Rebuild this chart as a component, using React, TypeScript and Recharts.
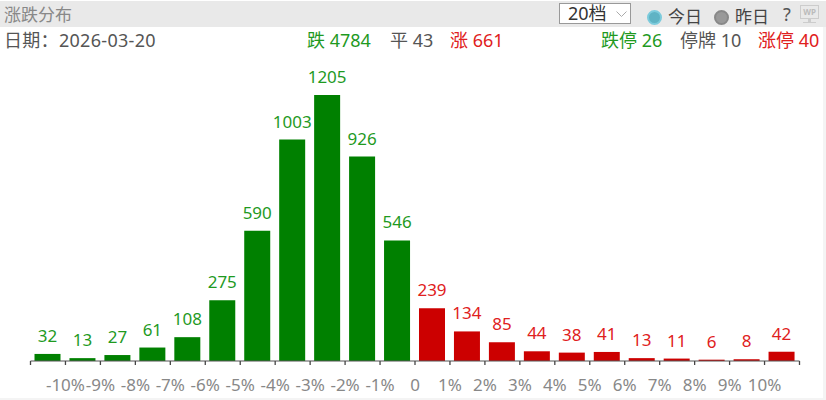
import React from 'react';
import { BarChart, Bar, Cell, LabelList, XAxis, YAxis } from 'recharts';

// one band per bucket, the label sits on the band's right edge
const buckets = ['-10%', '-9%', '-8%', '-7%', '-6%', '-5%', '-4%', '-3%', '-2%', '-1%', '0', '1%', '2%', '3%', '4%', '5%', '6%', '7%', '8%', '9%', '10%', ''];
const counts = [32, 13, 27, 61, 108, 275, 590, 1003, 1205, 926, 546, 239, 134, 85, 44, 38, 41, 13, 11, 6, 8, 42];
const downBuckets = 11;

const summaryCenter = [
  { text: '跌 4784', color: '#1f9a1f', left: 307 },
  { text: '平 43', color: '#555', left: 390 },
  { text: '涨 661', color: '#e02020', left: 450 },
];
const summaryRight = [
  { text: '跌停 26', color: '#1f9a1f', left: 601 },
  { text: '停牌 10', color: '#555', left: 680 },
  { text: '涨停 40', color: '#e02020', left: 758 },
];

const chartData = buckets.map((name, i) => ({ name, count: counts[i] }));

const FONT = '"Noto Sans", "Noto Sans CJK SC", sans-serif';
const BAND = 769 / 22;

function AxisTick({ x, y, index, payload }: any) {
  const last = index === buckets.length - 1;
  return (
    <g>
      <line x1={x - BAND / 2} x2={x - BAND / 2} y1={y - 8} y2={y - 4} stroke="#444" strokeWidth={1.3} />
      {last && <line x1={x + BAND / 2} x2={x + BAND / 2} y1={y - 8} y2={y - 4} stroke="#444" strokeWidth={1.3} />}
      <text x={x + BAND / 2} y={y + 22} textAnchor="middle" fontSize={17} fontFamily={FONT} fill="#888">
        {payload.value}
      </text>
    </g>
  );
}

function CountLabel({ x, y, width, value, index }: any) {
  return (
    <text
      x={x + width / 2}
      y={y - 12}
      textAnchor="middle"
      fontSize={17}
      fontFamily={FONT}
      fill={index < downBuckets ? '#1f9a1f' : '#e02020'}
    >
      {value}
    </text>
  );
}

function Label({ text, color, left, top, size = 18, spacing = 0 }: any) {
  return (
    <span style={{ position: 'absolute', left, top, color, fontSize: size, lineHeight: '20px', letterSpacing: spacing, whiteSpace: 'nowrap' }}>
      {text}
    </span>
  );
}

function Dot({ left, fill, ring }: any) {
  return (
    <span
      style={{
        position: 'absolute',
        left,
        top: 10,
        width: 15,
        height: 15,
        borderRadius: '50%',
        boxSizing: 'border-box',
        background: fill,
        border: `2px solid ${ring}`,
      }}
    />
  );
}

export default function App() {
  return (
    <div style={{ position: 'absolute', left: 0, top: 0, width: 826, height: 400, background: '#fff', fontFamily: FONT, overflow: 'hidden' }}>
      <div style={{ position: 'absolute', left: 0, top: 1, width: 826, height: 26, background: '#e9e9e9' }} />
      <div style={{ position: 'absolute', left: 823, top: 27, width: 3, height: 373, background: '#f4f4f4' }} />
      <div style={{ position: 'absolute', left: 0, top: 398, width: 826, height: 2, background: '#f4f4f4' }} />
      <Label text="涨跌分布" color="#888" left={4} top={5} size={17} />
      <div
        style={{
          position: 'absolute', left: 559, top: 3, width: 72, height: 21, boxSizing: 'border-box',
          background: '#fff', border: '1px solid #999', color: '#333', fontSize: 18, lineHeight: '19px', paddingLeft: 8,
        }}
      >
        20档
        <svg width={11} height={7} style={{ position: 'absolute', left: 56, top: 7 }}>
          <path d="M0.5 0.5 L5.5 5.5 L10.5 0.5" fill="none" stroke="#aaa" />
        </svg>
      </div>
      <Dot left={647} fill="#5fb3c4" ring="#7ccbdc" />
      <Label text="今日" color="#444" left={668} top={7} size={17} />
      <Dot left={714} fill="#999" ring="#888" />
      <Label text="昨日" color="#444" left={735} top={7} size={17} />
      <Label text="?" color="#555" left={783} top={4} />
      <div
        style={{
          position: 'absolute', left: 800, top: 5, width: 19, height: 14, boxSizing: 'border-box',
          border: '1px solid #ccc', color: '#bbb', fontSize: 8, lineHeight: '12px', textAlign: 'center', fontWeight: 700,
        }}
      >
        WP
      </div>
      <div style={{ position: 'absolute', left: 808, top: 19, width: 3, height: 3, background: '#ccc' }} />
      <div style={{ position: 'absolute', left: 803, top: 22, width: 13, height: 1, background: '#ccc' }} />
      <Label text="日期：2026-03-20" color="#555" left={4} top={30} spacing={0.3} />
      {summaryCenter.concat(summaryRight).map((s) => (
        <Label key={s.text} text={s.text} color={s.color} left={s.left} top={30} />
      ))}
      <BarChart
        width={826}
        height={400}
        data={chartData}
        margin={{ top: 52, right: 26.5, bottom: 0, left: 30.5 }}
        style={{ position: 'absolute', left: 0, top: 0 }}
      >
        <YAxis hide domain={[0, 1400]} />
        <XAxis
          dataKey="name"
          height={39}
          interval={0}
          tickLine={false}
          axisLine={{ stroke: '#555' }}
          tick={<AxisTick />}
        />
        <Bar dataKey="count" barSize={26} isAnimationActive={false}>
          {chartData.map((d, i) => (
            <Cell key={i} fill={i < downBuckets ? '#008000' : '#cc0000'} />
          ))}
          <LabelList dataKey="count" content={<CountLabel />} />
        </Bar>
      </BarChart>
    </div>
  );
}
